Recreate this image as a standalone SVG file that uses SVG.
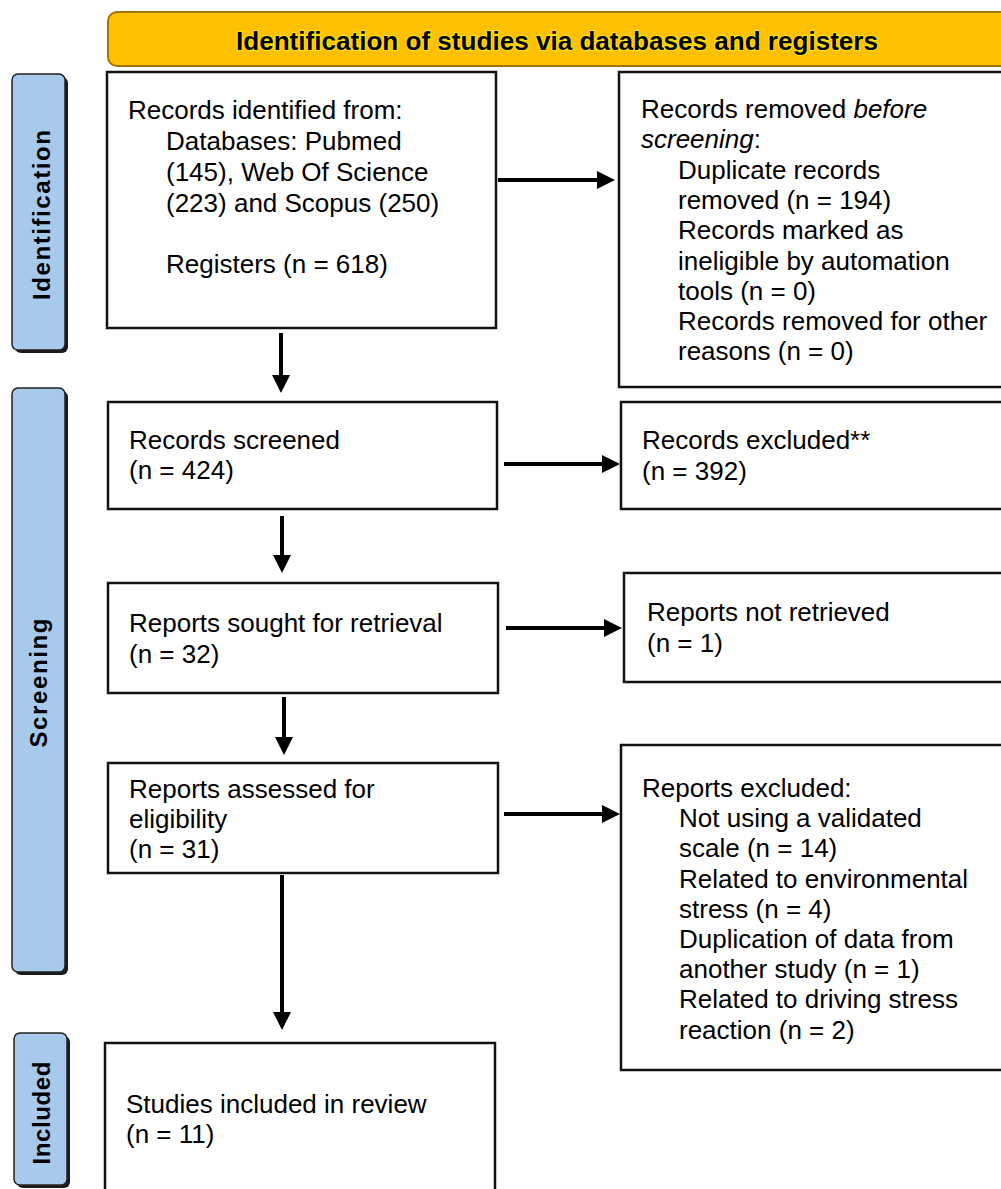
<svg xmlns="http://www.w3.org/2000/svg" width="1001" height="1189" viewBox="0 0 1001 1189">
<defs>
<marker id="ah" markerUnits="userSpaceOnUse" markerWidth="18" markerHeight="18" viewBox="0 0 18 18" refX="8" refY="9" orient="auto"><path d="M0,0 L18,9 L0,18 Z" fill="#000"/></marker>
</defs>
<style>
.box{fill:#fff;stroke:#111;stroke-width:2.5}
.t{font-family:"Liberation Sans",Arial,sans-serif;font-size:26px;fill:#000}
.bar{fill:#A7C9EC;stroke:#222;stroke-width:1.5}
.sh{fill:#1a1a1a}
.bt{font-family:"Liberation Sans",Arial,sans-serif;font-size:24px;font-weight:bold;fill:#000}
.c{stroke:#000;stroke-width:4;fill:none;marker-end:url(#ah)}
.hd{fill:#FFC000;stroke:#A87400;stroke-width:2}
.ht{font-family:"Liberation Sans Narrow","Liberation Sans",Arial,sans-serif;font-size:25px;font-weight:bold;fill:#000;stroke:#FFE400;stroke-width:2;paint-order:stroke}
</style>
<rect width="1001" height="1189" fill="#fff"/>

<g id="header">
<rect class="hd" x="108" y="12" width="910" height="54" rx="9"/>
<text class="ht" x="557" y="50" text-anchor="middle" textLength="642" lengthAdjust="spacingAndGlyphs">Identification of studies via databases and registers</text>
</g>

<g id="bar-identification">
<rect class="sh" x="15" y="77" width="53" height="276" rx="6"/>
<rect class="bar" x="12" y="74" width="53" height="276" rx="6"/>
<text class="bt" transform="translate(50,215) rotate(-90)" x="0" y="0" text-anchor="middle" textLength="170" lengthAdjust="spacing">Identification</text>
</g>
<g id="bar-screening">
<rect class="sh" x="15" y="391" width="53" height="584" rx="6"/>
<rect class="bar" x="12" y="388" width="53" height="584" rx="6"/>
<text class="bt" transform="translate(46.5,683) rotate(-90)" x="0" y="0" text-anchor="middle" textLength="129" lengthAdjust="spacing">Screening</text>
</g>
<g id="bar-included">
<rect class="sh" x="17" y="1036" width="53" height="152" rx="6"/>
<rect class="bar" x="14" y="1033" width="53" height="152" rx="6"/>
<text class="bt" transform="translate(50,1113) rotate(-90)" x="0" y="0" text-anchor="middle" textLength="103" lengthAdjust="spacing">Included</text>
</g>

<g id="connectors">
<path class="c" d="M498,180 H605"/>
<path class="c" d="M281,333 V383"/>
<path class="c" d="M504,464 H610"/>
<path class="c" d="M282,516 V563"/>
<path class="c" d="M506,628 H612"/>
<path class="c" d="M284,697 V745"/>
<path class="c" d="M504,814 H610"/>
<path class="c" d="M282,875 V1020"/>
</g>

<g id="records-identified">
<rect class="box" x="107" y="72" width="389" height="256"/>
<text class="t" x="128" y="119">Records identified from:</text>
<text class="t" x="166" y="150">Databases: Pubmed</text>
<text class="t" x="166" y="181">(145), Web Of Science</text>
<text class="t" x="166" y="212">(223) and Scopus (250)</text>
<text class="t" x="166" y="273">Registers (n = 618)</text>
</g>

<g id="records-removed">
<rect class="box" x="619" y="72" width="400" height="315"/>
<text class="t" x="641" y="118">Records removed <tspan font-style="italic">before</tspan></text>
<text class="t" x="641" y="148"><tspan font-style="italic">screening</tspan>:</text>
<text class="t" x="678" y="179">Duplicate records</text>
<text class="t" x="678" y="209">removed (n = 194)</text>
<text class="t" x="678" y="239">Records marked as</text>
<text class="t" x="678" y="270">ineligible by automation</text>
<text class="t" x="678" y="300">tools (n = 0)</text>
<text class="t" x="678" y="330">Records removed for other</text>
<text class="t" x="678" y="360">reasons (n = 0)</text>
</g>

<g id="records-screened">
<rect class="box" x="108" y="402" width="389" height="107"/>
<text class="t" x="129" y="449">Records screened</text>
<text class="t" x="129" y="479">(n = 424)</text>
</g>

<g id="records-excluded">
<rect class="box" x="621" y="402" width="400" height="107"/>
<text class="t" x="642" y="449">Records excluded**</text>
<text class="t" x="642" y="480">(n = 392)</text>
</g>

<g id="reports-sought">
<rect class="box" x="108" y="583" width="390" height="110"/>
<text class="t" x="129" y="632">Reports sought for retrieval</text>
<text class="t" x="129" y="663">(n = 32)</text>
</g>

<g id="reports-not-retrieved">
<rect class="box" x="624" y="573" width="400" height="109"/>
<text class="t" x="647" y="621">Reports not retrieved</text>
<text class="t" x="647" y="652">(n = 1)</text>
</g>

<g id="reports-assessed">
<rect class="box" x="108" y="763" width="390" height="110"/>
<text class="t" x="129" y="798">Reports assessed for</text>
<text class="t" x="129" y="828">eligibility</text>
<text class="t" x="129" y="858">(n = 31)</text>
</g>

<g id="reports-excluded">
<rect class="box" x="621" y="745" width="400" height="325"/>
<text class="t" x="642" y="797">Reports excluded:</text>
<text class="t" x="679" y="827">Not using a validated</text>
<text class="t" x="679" y="857">scale (n = 14)</text>
<text class="t" x="679" y="888">Related to environmental</text>
<text class="t" x="679" y="918">stress (n = 4)</text>
<text class="t" x="679" y="948">Duplication of data from</text>
<text class="t" x="679" y="978">another study (n = 1)</text>
<text class="t" x="679" y="1008">Related to driving stress</text>
<text class="t" x="679" y="1039">reaction (n = 2)</text>
</g>

<g id="studies-included">
<rect class="box" x="105" y="1043" width="390" height="170"/>
<text class="t" x="126" y="1113">Studies included in review</text>
<text class="t" x="126" y="1143">(n = 11)</text>
</g>
</svg>
